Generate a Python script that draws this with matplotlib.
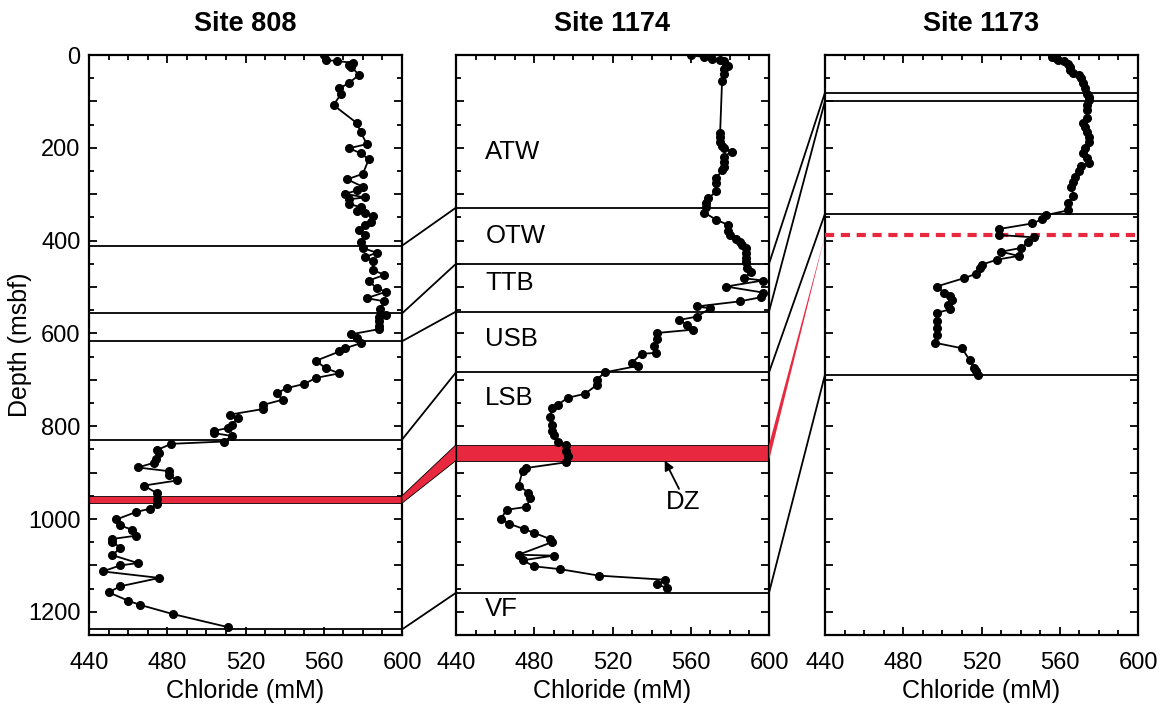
import matplotlib
matplotlib.use("Agg")
import matplotlib.pyplot as plt
from matplotlib.patches import ConnectionPatch, Polygon
from matplotlib.ticker import MultipleLocator, FuncFormatter

plt.rcParams['font.family'] = ['Liberation Sans', 'DejaVu Sans']

RED = '#e8283f'

# Site 808 chloride profile
depth_808 = [0, 11, 13, 17, 22, 25, 43, 60, 72, 83, 108, 147, 167, 192, 201, 212, 225,
             256, 268, 284, 292, 299, 307, 311, 321, 328, 337, 341, 348, 359, 367, 378,
             388, 402, 416, 426, 436, 443, 463, 474, 486, 503, 510, 524, 531, 548, 560,
             564, 574, 585, 591, 602, 610, 621, 632, 639, 659, 675, 686, 696, 709, 718,
             729, 743, 754, 763, 775, 782, 797, 804, 810, 815, 821, 833, 838, 851, 858,
             871, 879, 889, 897, 906, 917, 928, 945, 957, 967, 978, 985, 1001, 1014, 1023,
             1036, 1043, 1049, 1062, 1078, 1095, 1100, 1113, 1127, 1145, 1158, 1176, 1185,
             1205, 1233]
cl_808 = [560, 561, 567, 575, 573, 574, 578, 573, 568, 569, 565, 577, 579, 582, 573, 579, 583,
          580, 572, 580, 577, 571, 581, 573, 573, 579, 577, 581, 585, 584, 581, 578,
          581, 579, 580, 587, 581, 585, 585, 591, 583, 587, 592, 582, 591, 589, 592,
          588, 588, 588, 588, 574, 577, 579, 571, 568, 556, 561, 568, 556, 550, 541,
          536, 539, 529, 529, 512, 516, 513, 511, 504, 504, 513, 509, 482, 475, 476,
          474, 473, 465, 481, 481, 485, 468, 475, 475, 475, 471, 464, 454, 456, 462,
          464, 452, 452, 456, 452, 465, 456, 447, 476, 456, 450, 460, 466,
          483, 511]

# Site 1174 chloride profile
depth_1174 = [0, 5, 8, 11, 14, 21, 24, 31, 40, 57, 169, 177, 187, 196, 201, 208, 219, 230,
              241, 248, 266, 276, 294, 309, 319, 327, 340, 355, 366, 380, 388, 397, 404,
              409, 416, 427, 438, 447, 459, 467, 481, 486, 499, 512, 522, 531, 542, 546,
              564, 571, 581, 592, 599, 612, 627, 642, 644, 663, 670, 684, 700, 711, 730,
              739, 754, 761, 780, 797, 811, 818, 833, 841, 854, 865, 878, 890, 897, 928,
              943, 955, 974, 980, 999, 1010, 1022, 1030, 1043, 1050, 1077, 1079, 1089,
              1102, 1108, 1122, 1131, 1141, 1149]
cl_1174 = [560, 567, 571, 575, 577, 578, 579, 577, 577, 576, 575, 575, 575, 576, 577, 581, 577, 577,
           577, 576, 573, 573, 573, 569, 568, 568, 567, 573, 579, 579, 580, 583, 585,
           586, 588, 588, 588, 588, 589, 591, 587, 597, 578, 597, 596, 585, 563, 570,
           563, 554, 558, 561, 543, 543, 541, 542, 535, 530, 533, 516, 512, 512, 506,
           497, 492, 489, 488, 489, 489, 490, 492, 496, 496, 497, 496, 476, 474, 472,
           477, 478, 476, 466, 463, 467, 475, 480, 488, 489, 472, 490, 474,
           480, 493, 513, 547, 543, 548]

# Site 1173 chloride profile
depth_1173 = [4, 7, 11, 14, 19, 25, 32, 38, 43, 50, 61, 72, 83, 90, 98, 108, 118, 136, 146,
              156, 165, 176, 187, 201, 212, 223, 232, 239, 251, 262, 273, 284, 304, 319,
              335, 345, 354, 363, 375, 388, 393, 404, 416, 424, 433, 441, 452, 459, 472,
              481, 499, 512, 519, 528, 538, 548, 556, 574, 589, 603, 620, 632, 658, 675,
              682, 689]
cl_1173 = [556, 558, 559, 562, 564, 565, 565, 567, 570, 571, 572, 573, 574, 575, 575, 574, 574, 574, 572,
           573, 574, 575, 575, 573, 572, 574, 575, 571, 570, 568, 567, 566, 567, 564,
           564, 553, 551, 546, 529, 529, 547, 544, 540, 530, 539, 528, 520, 519, 517,
           511, 497, 501, 504, 505, 503, 504, 497, 497, 497, 497, 496, 510, 514, 516,
           517, 518]

# unit boundaries (msbf) in each hole
bounds_808 = [411, 557, 617, 829, 1238]
bounds_1174 = [329, 450, 553, 684, 1159]
bounds_1173 = [81, 99, 342, 689]

# decollement zone
dz_808 = (950, 966)
dz_1174 = (840, 874)
dz_1173 = 389

unit_names = ['ATW', 'OTW', 'TTB', 'USB', 'LSB', 'VF']
unit_depths = [208, 391, 492, 612, 739, 1195]

fig = plt.figure(figsize=(11.62, 7.05), dpi=100)
W, H = 1162, 705
axes = []
for left in [89, 456, 825]:
    ax = fig.add_axes([left / W, 1 - 635 / H, 313 / W, 580 / H])
    axes.append(ax)
ax1, ax2, ax3 = axes

titles = ['Site 808', 'Site 1174', 'Site 1173']
profiles = [(cl_808, depth_808), (cl_1174, depth_1174), (cl_1173, depth_1173)]

for i, ax in enumerate(axes):
    ax.set_xlim(440, 600)
    ax.set_ylim(1250, 0)
    x, y = profiles[i]
    ax.plot(x, y, '-', color='black', lw=1.3, marker='o', ms=5.5, zorder=5)
    ax.set_title(titles[i], fontsize=19.5, fontweight='bold', pad=17)
    ax.set_xlabel('Chloride (mM)', fontsize=18, labelpad=4)
    ax.xaxis.set_major_locator(MultipleLocator(40))
    ax.xaxis.set_minor_locator(MultipleLocator(10))
    ax.yaxis.set_major_locator(MultipleLocator(100))
    ax.yaxis.set_minor_locator(MultipleLocator(50))
    ax.tick_params(which='both', direction='in', top=True, right=True, width=1.3)
    ax.tick_params(which='major', length=6, labelsize=17)
    ax.tick_params(axis='x', which='major', pad=12)
    ax.tick_params(axis='y', which='major', pad=6)
    ax.tick_params(which='minor', length=3.5)
    for s in ax.spines.values():
        s.set_linewidth(1.6)
    if i > 0:
        ax.tick_params(labelleft=False)

ax1.yaxis.set_major_formatter(FuncFormatter(lambda v, p: '%d' % v if v % 200 == 0 else ''))
ax1.set_ylabel('Depth (msbf)', fontsize=18)
ax1.yaxis.set_label_coords(-0.182, 0.5)

for ax, bounds in zip(axes, [bounds_808, bounds_1174, bounds_1173]):
    for b in bounds:
        ax.axhline(b, color='black', lw=1.3, zorder=3)

ax1.axhspan(dz_808[0], dz_808[1], facecolor=RED, edgecolor='black', lw=0.6, zorder=2)
ax2.axhspan(dz_1174[0], dz_1174[1], facecolor=RED, edgecolor='black', lw=0.6, zorder=2)
ax3.axhline(dz_1173, color=RED, lw=3, ls=(0, (2.2, 1.6)), zorder=3)

for name, d in zip(unit_names, unit_depths):
    ax2.text(455, d, name, fontsize=18.5, ha='left', va='center')

ax2.text(556, 963, 'DZ', fontsize=18.5, ha='center', va='center')
ax2.annotate('', xy=(546.7, 874), xytext=(554, 935),
             arrowprops=dict(arrowstyle='-|>', color='black', lw=1.3,
                             mutation_scale=14, shrinkA=0, shrinkB=0))

# connecting lines between holes
for a, b in zip(bounds_808, bounds_1174):
    fig.add_artist(ConnectionPatch((600, a), (440, b), 'data', 'data',
                                   axesA=ax1, axesB=ax2, color='black', lw=1.3))
for a, b in zip(bounds_1174[1:], bounds_1173):
    fig.add_artist(ConnectionPatch((600, a), (440, b), 'data', 'data',
                                   axesA=ax2, axesB=ax3, color='black', lw=1.3))


def to_fig(ax, x, y):
    return fig.transFigure.inverted().transform(ax.transData.transform((x, y)))


poly1 = [to_fig(ax1, 600, dz_808[0]), to_fig(ax2, 440, dz_1174[0]),
         to_fig(ax2, 440, dz_1174[1]), to_fig(ax1, 600, dz_808[1])]
fig.add_artist(Polygon(poly1, closed=True, facecolor=RED, edgecolor='black', lw=0.6,
                       transform=fig.transFigure))
poly2 = [to_fig(ax2, 600, dz_1174[0]), to_fig(ax3, 440, dz_1173),
         to_fig(ax2, 600, dz_1174[1])]
fig.add_artist(Polygon(poly2, closed=True, facecolor=RED, edgecolor='none',
                       transform=fig.transFigure))

fig.savefig('out.png', dpi=100)
